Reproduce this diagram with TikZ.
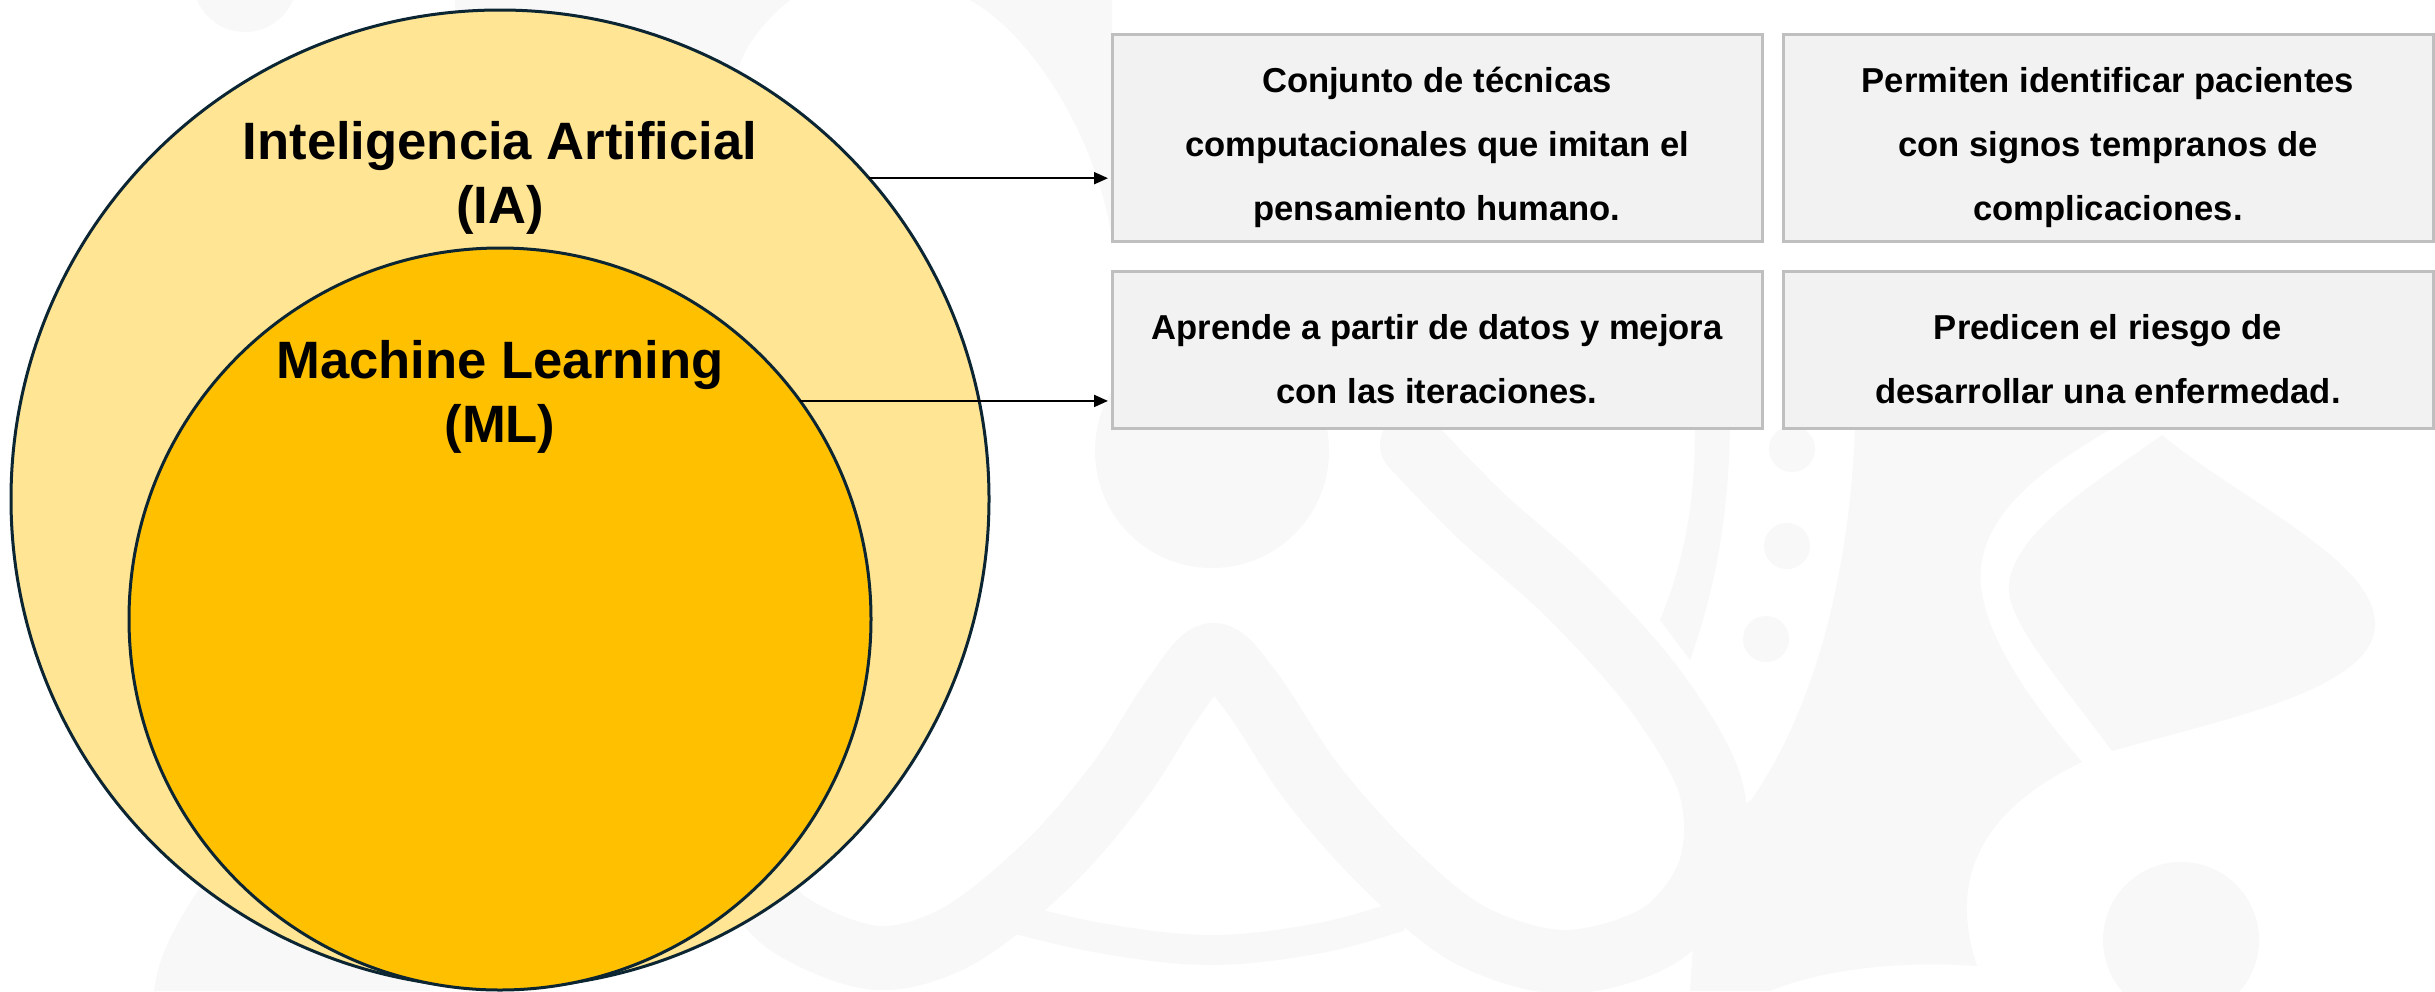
\documentclass[tikz,border=0pt]{standalone}
\usepackage{fontspec}
\setmainfont{Liberation Sans}
\usetikzlibrary{arrows.meta}
\definecolor{wm}{HTML}{F8F8F8}
\definecolor{iafill}{HTML}{FFE594}
\definecolor{mlfill}{HTML}{FFC000}
\definecolor{ring}{HTML}{0C2533}
\definecolor{boxfill}{HTML}{F2F2F2}
\definecolor{boxline}{HTML}{BFBFBF}
\begin{document}
\begin{tikzpicture}[x=0.5pt,y=-0.5pt,
  setcircle/.style={circle, draw=ring, line width=1.5pt, inner sep=0pt, outer sep=0pt},
  infobox/.style={rectangle, draw=boxline, fill=boxfill, line width=1.5pt, inner sep=0pt, outer sep=0pt, minimum width=325pt},
  boxtext/.style={align=center, font=\bfseries\fontsize{17.3}{32}\selectfont},
  titletext/.style={align=center, font=\bfseries\fontsize{26.3}{32}\selectfont},
  conn/.style={-{Triangle[length=7pt,width=6pt]}, line width=1pt, shorten >=2pt}
]
\useasboundingbox (0,0) rectangle (2435,991);
\fill[white] (0,0) rectangle (2435,991);
% faint watermark
\fill[wm] (245,-20) circle[radius=26pt];
\fill[wm] (455,0) -- (790,0) .. controls (765,20) and (745,45) .. (739,67) -- (455,67) -- cycle;
\fill[wm] (970,0) .. controls (1040,40) and (1100,150) .. (1112,240) -- (1112,0) -- cycle;
\fill[wm] (210,873) .. controls (170,930) and (158,960) .. (154,991) -- (430,991) -- (430,870) -- cycle;
\fill[wm] (1212,451) circle[radius=58.5pt];
\foreach \px/\py in {1792/449, 1787/546, 1766/639} \fill[wm] (\px,\py) circle[radius=11.5pt];
\draw[wm, line width=32pt, line cap=round, line join=round] plot[smooth, tension=0.55] coordinates {(1412,445) (1480,515) (1570,595) (1655,690) (1710,785) (1710,870) (1660,935) (1565,962) (1470,935) (1390,870) (1313,784) (1250,690) (1212,655) (1172,700) (1120,780) (1050,862) (960,935) (877,958) (790,925) (740,870)};
\draw[wm, line width=15pt] plot[smooth, tension=0.6] coordinates {(990,912) (1100,938) (1212,950) (1320,938) (1400,916)};
\fill[wm] (1695,428) -- (1730,428) .. controls (1728,520) and (1715,590) .. (1690,660) -- (1660,620) .. controls (1685,560) and (1695,500) .. cycle;
\fill[wm] (1855,428) .. controls (1850,560) and (1820,700) .. (1752,799) -- (1700,840) -- (1690,991) -- (1770,991) .. controls (1820,970) and (1900,960) .. (1977,966) .. controls (1955,900) and (1960,820) .. (2082,762) .. controls (2020,690) and (1975,620) .. (1981,566) .. controls (1990,500) and (2060,460) .. (2112,428) -- cycle;
\fill[wm] (2162,435) .. controls (2240,500) and (2375,560) .. (2375,624) .. controls (2375,690) and (2220,720) .. (2112,751) .. controls (2060,680) and (2005,620) .. (2009,584) .. controls (2015,530) and (2100,480) .. cycle;
\fill[wm] (2181,940) circle[radius=39pt];
% circles
\node[setcircle, fill=iafill, minimum size=489pt] (ia) at (500,499) {};
\node[setcircle, fill=mlfill, minimum size=371pt] (ml) at (500,619) {};
\node[titletext] (iat) at (500,178) {Inteligencia Artificial\\(IA)};
\node[titletext] (mlt) at (500,397) {Machine Learning\\(ML)};
% boxes
\node[infobox, minimum height=103.5pt] (b1) at (1437,137.5) {};
\node[infobox, minimum height=103.5pt] (b2) at (2108,137.5) {};
\node[infobox, minimum height=78.5pt] (b3) at (1437,349.5) {};
\node[infobox, minimum height=78.5pt] (b4) at (2108,349.5) {};
\node[boxtext] (t1) at (1437,147.5) {Conjunto de técnicas\\computacionales que imitan el\\pensamiento humano.};
\node[boxtext] (t2) at (2108,147.5) {Permiten identificar pacientes\\con signos tempranos de\\complicaciones.};
\node[boxtext] (t3) at (1437,359) {Aprende a partir de datos y mejora\\con las iteraciones.};
\node[boxtext] (t4) at (2108,359) {Predicen el riesgo de\\desarrollar una enfermedad.};
% connectors
\draw[conn] (ia.41.66) -- (ia.41.66 -| b1.west);
\draw[conn] (ml.36.18) -- (ml.36.18 -| b3.west);
\end{tikzpicture}
\end{document}
